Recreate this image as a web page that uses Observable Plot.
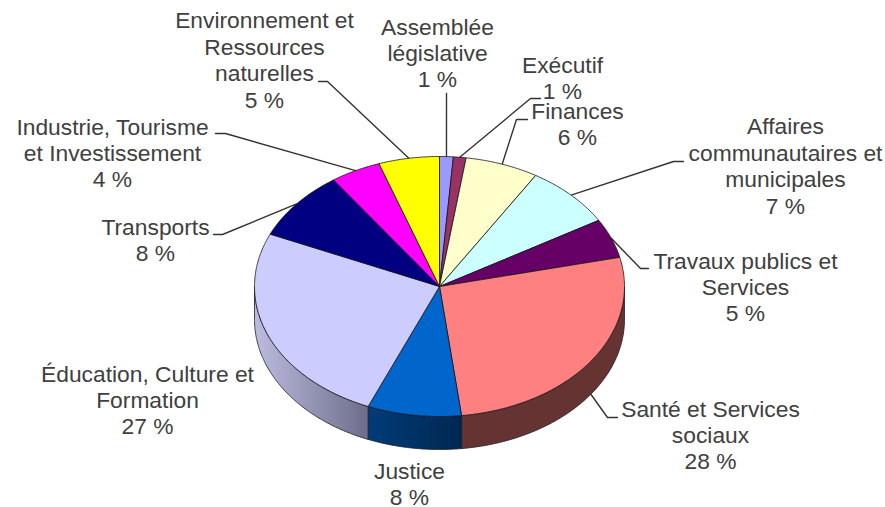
<!DOCTYPE html>
<html lang="fr">
<head>
<meta charset="utf-8">
<script src="https://cdn.jsdelivr.net/npm/d3@7"></script>
<script src="https://cdn.jsdelivr.net/npm/@observablehq/plot@0.6"></script>
<style>html,body{margin:0;padding:0;background:#fff}svg{display:block}</style>
</head>
<body>
<div id="chart"></div>
<script>
// Data
const categories = ["Assemblée législative","Exécutif","Finances","Affaires communautaires et municipales","Travaux publics et Services","Santé et Services sociaux","Justice","Éducation, Culture et Formation","Transports","Industrie, Tourisme et Investissement","Environnement et Ressources naturelles"];
const printedPercent = [1,1,6,7,5,28,8,27,8,4,5];
const apparentShare = [1.2,1.1,6.4,7.8,4.9,26.7,8.2,25.3,8.7,4.4,5.3];
const sliceColors = ["#9999ff","#993366","#ffffcc","#ccffff","#660066","#ff8080","#0066cc","#ccccff","#000080","#ff00ff","#ffff00"];
const labelLines = [
  ["Assemblée","législative"],["Exécutif"],["Finances"],
  ["Affaires","communautaires et","municipales"],["Travaux publics et","Services"],
  ["Santé et Services","sociaux"],["Justice"],["Éducation, Culture et","Formation"],
  ["Transports"],["Industrie, Tourisme","et Investissement"],["Environnement et","Ressources","naturelles"]
];
// Layout
const W = 885, H = 507;
const pie = {cx:439, cy:286, rx:185, ry:130, depth:33};
const labelX = [437,562,577,785,745,710,409,147,155,112,264];
const labelY = [52,77,123,165,286,434,483,399,239,152,59];
const elbows = [
  [[446,93]],
  [[530,98],[540,98]],
  [[516,119],[527,119]],
  [[673,161],[683,161]],
  [[640,268],[648,268]],
  [[607,417],[617,417]],
  [],
  [],
  [[222,234],[213,234]],
  [[225,133],[215,133]],
  [[327,81],[318,81]]
];

const rim = (deg, dy = 0) => {
  const a = deg * Math.PI / 180;
  return [pie.cx + pie.rx * Math.sin(a), pie.cy - pie.ry * Math.cos(a) + dy];
};
const total = d3.sum(apparentShare);
const cum = d3.cumsum(apparentShare);
const slices = categories.map((name, i) => ({
  name, i, color: sliceColors[i],
  a0: (i ? cum[i-1] : 0) / total * 360,
  a1: cum[i] / total * 360
}));
const arcPts = (a0, a1, dy = 0) => {
  const n = Math.max(2, Math.ceil((a1 - a0) * 2));
  return d3.range(n + 1).map(k => rim(a0 + (a1 - a0) * k / n, dy));
};
const topRows = slices.flatMap(s => {
  const pts = [[pie.cx, pie.cy], ...arcPts(s.a0, s.a1), [pie.cx, pie.cy]];
  return pts.map(p => ({x:p[0], y:p[1], name:s.name, color:s.color}));
});
const wallRows = i => {
  const s = slices[i];
  const a0 = Math.max(s.a0, 90), a1 = Math.min(s.a1, 270);
  const pts = [...arcPts(a0, a1), ...arcPts(a0, a1, pie.depth).reverse()];
  pts.push(pts[0]);
  return pts.map(p => ({x:p[0], y:p[1]}));
};
const leaderRows = slices.flatMap(s => {
  const e = elbows[s.i];
  if (!e.length) return [];
  const mid = (s.a0 + s.a1) / 2;
  const front = mid > 90 && mid < 270;
  return [rim(mid, front ? pie.depth : 0), ...e].map(p => ({x:p[0], y:p[1], name:s.name}));
});
const labels = categories.map((c, i) => ({
  x: labelX[i], y: labelY[i],
  text: [...labelLines[i], printedPercent[i] + " %"].join("\n")
}));
const wall = (i, fill) => Plot.line(wallRows(i), {x:"x", y:"y", fill, stroke:"#1c1c24", strokeWidth:0.8});

const chart = Plot.plot({
  width: W, height: H, margin: 0,
  x: {domain:[0,W], range:[0,W], axis:null},
  y: {domain:[0,H], range:[0,H], axis:null},
  style: {background:"#fff"},
  marks: [
    Plot.line(leaderRows, {x:"x", y:"y", z:"name", stroke:"#333", strokeWidth:1.4}),
    wall(5, "#663333"),
    wall(6, "url(#wallJustice)"),
    wall(7, "url(#wallEducation)"),
    Plot.line(topRows, {x:"x", y:"y", z:"name", fill:"color", stroke:"#141414", strokeWidth:0.8, strokeLinejoin:"round"}),
    Plot.text(labels, {x:"x", y:"y", text:"text", fontFamily:"Liberation Sans", fontSize:22.8, lineHeight:1.16, fill:"#404040", textAnchor:"middle", lineAnchor:"middle"})
  ]
});

const defs = d3.select(chart).append("defs");
const grad = (id, x1, x2, c1, c2) => {
  const g = defs.append("linearGradient").attr("id", id).attr("gradientUnits","userSpaceOnUse")
    .attr("x1",x1).attr("x2",x2).attr("y1",0).attr("y2",0);
  g.append("stop").attr("offset",0).attr("stop-color",c1);
  g.append("stop").attr("offset",1).attr("stop-color",c2);
};
grad("wallEducation", 254, 369, "#bcbcdf", "#6c6c8a");
grad("wallJustice", 369, 461, "#003c78", "#002752");
document.getElementById("chart").append(chart);
</script>
</body>
</html>
